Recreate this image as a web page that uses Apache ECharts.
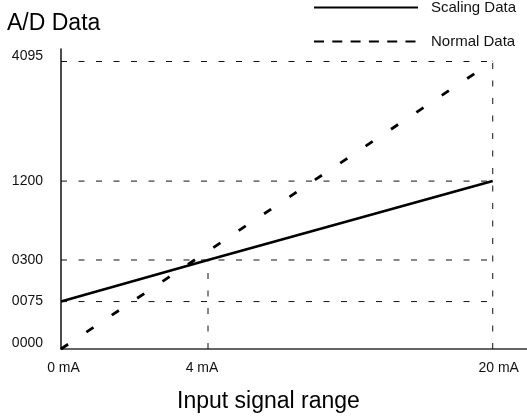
<!DOCTYPE html>
<html><head><meta charset="utf-8">
<script src="https://cdn.jsdelivr.net/npm/echarts@6/dist/echarts.min.js"></script>
<style>html,body{margin:0;padding:0;background:#fff}#c{width:527px;height:420px}</style>
</head><body><div id="c"></div>
<script>
// ---------- data ----------
const xTickLabels = ['0 mA', '4 mA', '20 mA'];
const xTickValues = [0, 4, 20];                 // input signal, mA
const yTickLabels = ['0000', '0075', '0300', '1200', '4095'];
const yTickValues = [0, 75, 300, 1200, 4095];   // A/D data
const scalingMA = [0, 4, 20];
const scalingData = [75, 300, 1200];
const normalMA = [0, 20];
const normalData = [0, 4095];
const guideMA = [4, 20];          // vertical guide lines
const guideTop = [300, 4095];     // height reached by each vertical guide

// ---------- schematic layout (not data): where each tick level sits along its axis ----------
const xTickPlace = [0, 0.3405, 1];
const yTickPlace = [0, 0.165, 0.3096, 0.584, 1];
const xLabelStyle = ['a', 'b', 'c'];          // rich-style keys for small label nudges
const yLabelStyle = ['up', 'mid', 'mid', 'mid', 'up'];
const FONT = '"Liberation Sans", Arial, Helvetica, sans-serif';
const TICKFONT = FONT;

function place(v, stops, places) {
  for (let i = 0; i < stops.length - 1; i++) {
    if (v <= stops[i + 1]) {
      const t = (v - stops[i]) / (stops[i + 1] - stops[i]);
      return places[i] + t * (places[i + 1] - places[i]);
    }
  }
  return places[places.length - 1];
}
const px = v => place(v, xTickValues, xTickPlace);
const py = v => place(v, yTickValues, yTickPlace);
function nearestIndex(val, places) {
  let best = 0;
  for (let i = 1; i < places.length; i++) if (Math.abs(places[i] - val) < Math.abs(places[best] - val)) best = i;
  return best;
}

const guideStyle = { color: '#111', width: 1, type: [6, 11.5] };
const guideSeries = [];
yTickValues.forEach(v => {
  if (v === 0) return;
  guideSeries.push({
    type: 'line', silent: true, symbol: 'none', z: 1,
    data: [[px(xTickValues[0]), py(v)], [px(xTickValues[xTickValues.length - 1]), py(v)]],
    lineStyle: guideStyle
  });
});
guideMA.forEach((m, i) => {
  guideSeries.push({
    type: 'line', silent: true, symbol: 'none', z: 1,
    data: [[px(m), py(0)], [px(m), py(guideTop[i])]],
    lineStyle: guideStyle
  });
});

const tickText = { fontSize: 14, color: '#111', fontFamily: TICKFONT };
const chart = echarts.init(document.getElementById('c'), null, { renderer: 'canvas' });
chart.setOption({
  animation: false,
  backgroundColor: '#fff',
  textStyle: { fontFamily: FONT },
  title: [
    { text: 'A/D Data', left: 7, top: 12, padding: 0,
      textStyle: { fontSize: 23, fontWeight: 'normal', color: '#000', fontFamily: FONT } },
    { text: 'Input signal range', left: 177, top: 390, padding: 0,
      textStyle: { fontSize: 23, fontWeight: 'normal', color: '#000', fontFamily: FONT } }
  ],
  legend: {
    left: 313, top: 0, padding: 0, orient: 'vertical', itemWidth: 104, itemHeight: 14, itemGap: 19,
    textStyle: { fontSize: 15, color: '#111', padding: [0, 0, 0, 8], fontFamily: FONT },
    itemStyle: { opacity: 0 },
    data: [
      { name: 'Scaling Data', itemStyle: { opacity: 0 } },
      { name: 'Normal Data', itemStyle: { opacity: 0 }, lineStyle: { type: [10, 8.3] } }
    ]
  },
  grid: { left: 61, right: 0, top: 49, bottom: 71, containLabel: false },
  xAxis: {
    type: 'value', min: 0, max: 1.0794,
    splitLine: { show: false },
    axisTick: { show: false },
    axisLine: { show: true, lineStyle: { color: '#333', width: 1.5 } },
    axisLabel: Object.assign({}, tickText, {
      customValues: xTickValues.map(px), margin: 12,
      formatter: v => { const i = nearestIndex(v, xTickPlace); return '{' + xLabelStyle[i] + '|' + xTickLabels[i] + '}'; },
      rich: {
        a: Object.assign({}, tickText, { padding: [0, 0, 0, 5] }),
        b: Object.assign({}, tickText, { padding: [0, 12, 0, 0] }),
        c: Object.assign({}, tickText, { padding: [0, 0, 0, 12] })
      }
    })
  },
  yAxis: {
    type: 'value', min: 0, max: 1.0435,
    splitLine: { show: false },
    axisTick: { show: false },
    axisLine: { show: true, lineStyle: { color: '#111', width: 1.5 } },
    axisLabel: Object.assign({}, tickText, {
      customValues: yTickValues.map(py), margin: 18,
      formatter: v => { const i = nearestIndex(v, yTickPlace); return '{' + yLabelStyle[i] + '|' + yTickLabels[i] + '}'; },
      rich: {
        up: Object.assign({}, tickText, { padding: [0, 0, 11, 0] }),
        mid: Object.assign({}, tickText)
      }
    })
  },
  series: [
    ...guideSeries,
    { name: 'Scaling Data', type: 'line', symbol: 'none', z: 3,
      data: scalingMA.map((m, i) => [px(m), py(scalingData[i])]),
      lineStyle: { color: '#000', width: 2.6 }, itemStyle: { color: '#000' } },
    { name: 'Normal Data', type: 'line', symbol: 'none', z: 3,
      data: normalMA.map((m, i) => [px(m), py(normalData[i])]),
      lineStyle: { color: '#000', width: 2.8, type: [8.5, 22] }, itemStyle: { color: '#000' } }
  ]
});
</script>
</body></html>
